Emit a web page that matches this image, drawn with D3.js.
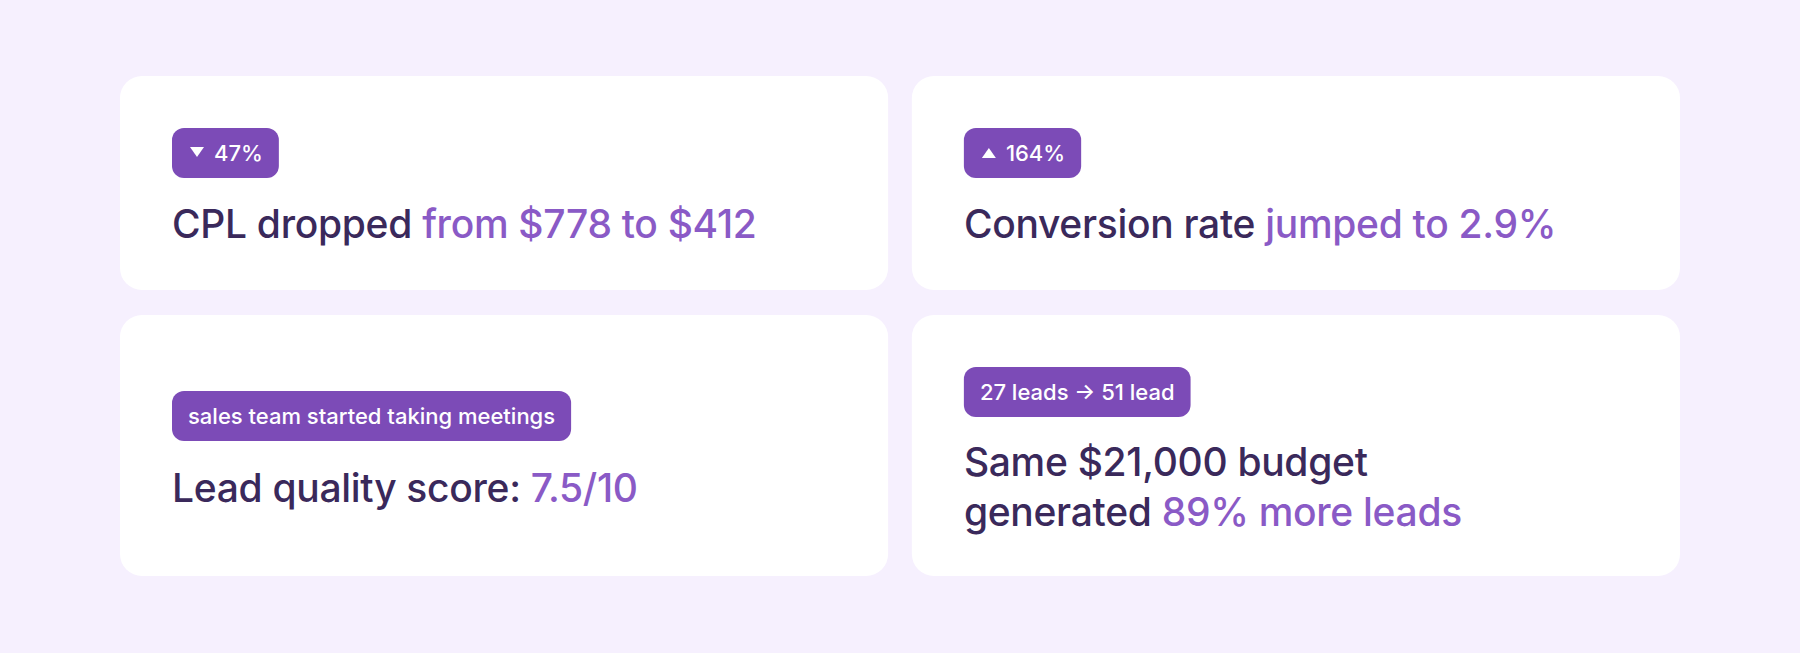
<!DOCTYPE html>
<html>
<head>
<meta charset="utf-8">
<script src="https://cdn.jsdelivr.net/npm/d3@7.9.0/dist/d3.min.js"></script>
<style>
  html, body { margin: 0; padding: 0; background: #f6f0fe; }
  svg { display: block; font-family: Inter, "Noto Sans", sans-serif; }
</style>
</head>
<body>
<svg id="chart" width="1800" height="653"></svg>
<script>
// card content
const badges = ['47%', '164%', 'sales team started taking meetings', '27 leads \u2192 51 lead'];
const arrows = ['down', 'up', null, null];
const plainText = [['CPL dropped '], ['Conversion rate '], ['Lead quality score: '], ['Same $21,000 budget', 'generated ']];
const accentText = [['from $778 to $412'], ['jumped to 2.9%'], ['7.5/10'], ['', '89% more leads']];
const cols = [0, 1, 0, 1];
const rows = [0, 0, 1, 1];

const svg = d3.select('#chart');

const x = d3.scaleBand().domain([0, 1]).range([120, 1680]).paddingInner(0.03);
const rowY = [76, 315];
const rowH = [214, 261];
// badge top relative to card, text baseline relative to card
const badgeTop = [52, 52, 76, 52];
const textBase = [162, 162, 187, 161];

const cards = svg.selectAll('g.card')
  .data(badges.map((b, i) => ({ i, b })))
  .join('g')
  .attr('class', 'card')
  .attr('transform', d => `translate(${x(cols[d.i])},${rowY[rows[d.i]]})`);

cards.append('rect')
  .attr('width', x.bandwidth())
  .attr('height', d => rowH[rows[d.i]])
  .attr('rx', 22)
  .attr('fill', '#ffffff');

cards.each(function (d) {
  const g = d3.select(this);
  const bx = 52, by = badgeTop[d.i], bh = 50;
  const badge = g.append('g').attr('transform', `translate(${bx},${by})`);
  const rect = badge.append('rect').attr('height', bh).attr('rx', 12).attr('fill', '#7c4bb7');
  let tx = 16;
  if (arrows[d.i]) {
    const pts = arrows[d.i] === 'down'
      ? [[18, 19], [32, 19], [25, 29]]
      : [[18, 30], [32, 30], [25, 20]];
    badge.append('path').attr('d', d3.line()(pts) + 'Z').attr('fill', '#fff');
    tx = 42;
  }
  const t = badge.append('text')
    .attr('x', tx).attr('y', 33)
    .attr('fill', '#fff')
    .attr('font-size', 22)
    .attr('font-weight', 500)
    .text(d.b);
  rect.attr('width', tx + t.node().getComputedTextLength() + 16);

  plainText[d.i].forEach((p, li) => {
    const line = g.append('text')
      .attr('x', bx)
      .attr('y', textBase[d.i] + li * 50)
      .attr('font-size', 39)
      .attr('font-weight', 500)
      .attr('letter-spacing', -0.3);
    line.append('tspan').attr('fill', '#3a295b').text(p);
    line.append('tspan').attr('fill', '#8a5ac6').text(accentText[d.i][li]);
  });
});
</script>
</body>
</html>
